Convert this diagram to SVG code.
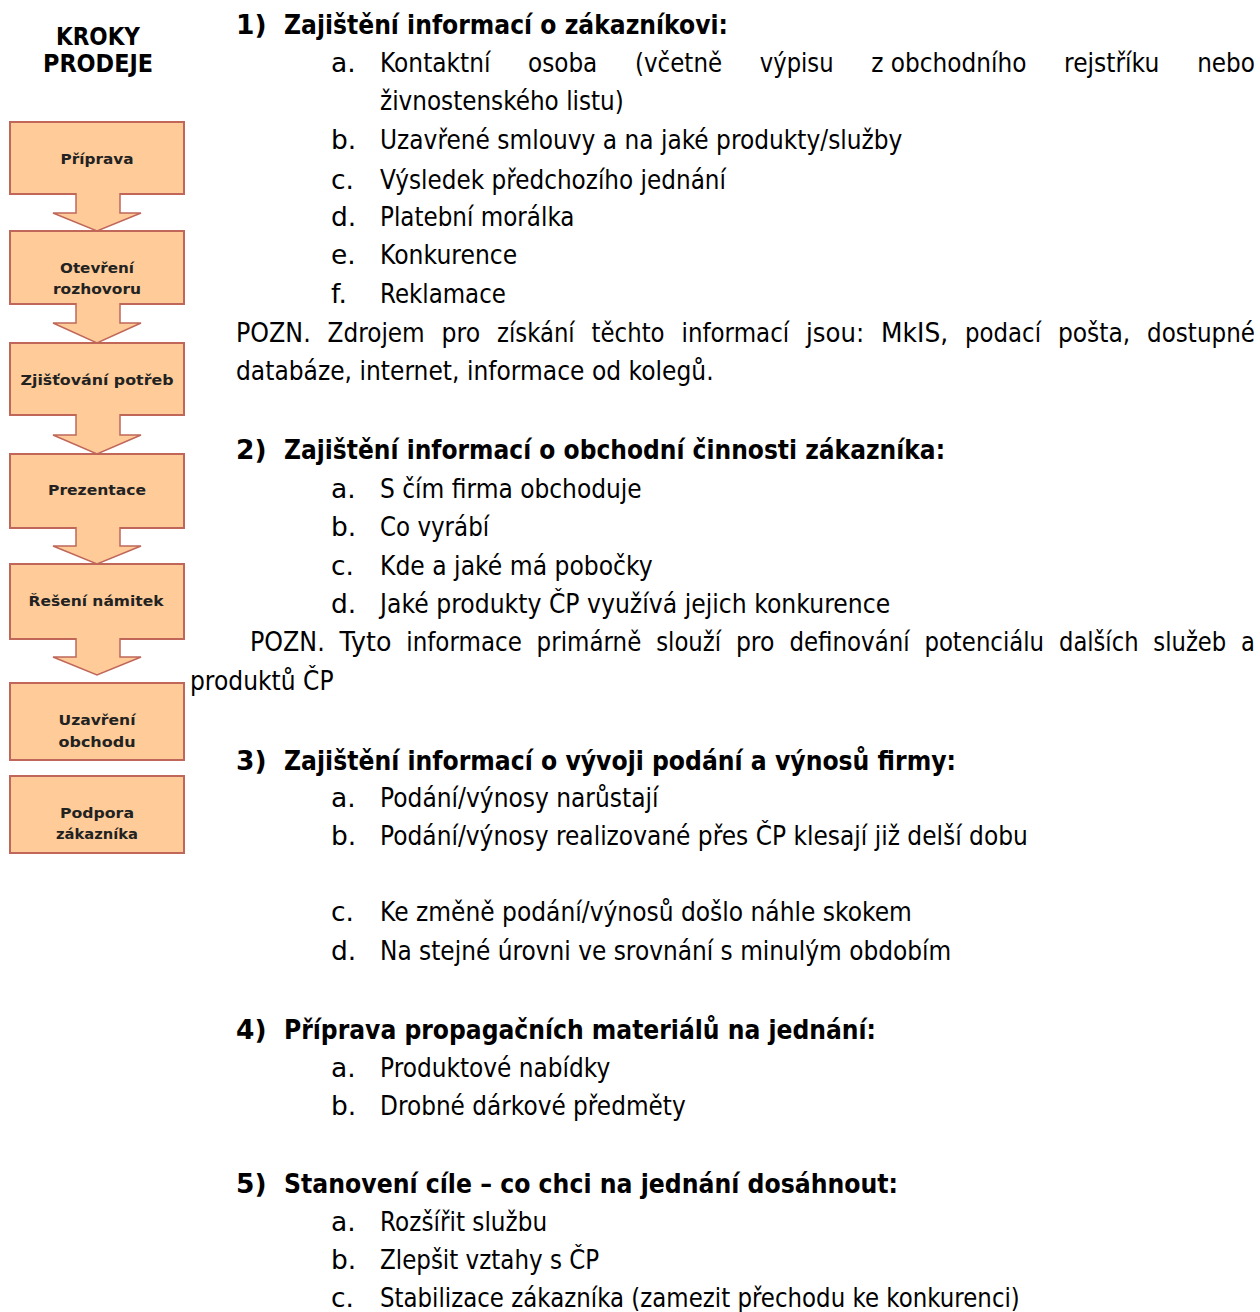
<svg xmlns="http://www.w3.org/2000/svg" width="1260" height="1312" viewBox="0 0 1260 1312">
  <style>
    .title { font-family: "DejaVu Sans", "Liberation Sans", sans-serif; font-size: 24px; font-weight: bold; fill: #000; text-anchor: middle; }
    .box { fill: #FFCC99; stroke: #C0675A; stroke-width: 2; }
    .arrow { fill: #FFCC99; stroke: #C0675A; stroke-width: 1.5; stroke-linejoin: miter; }
    .lbl { font-family: "DejaVu Sans", "Liberation Sans", sans-serif; font-size: 14px; font-weight: bold; fill: #222; text-anchor: middle; }
    .h { font-family: "DejaVu Sans", "Liberation Sans", sans-serif; font-size: 26.5px; font-weight: bold; fill: #000; }
    .t { font-family: "DejaVu Sans", "Liberation Sans", sans-serif; font-size: 26.5px; fill: #000; }
  </style>

  <!-- left column heading -->
  <g id="title">
    <text class="title" x="98" y="45" textLength="84" lengthAdjust="spacingAndGlyphs">KROKY</text>
    <text class="title" x="98" y="72" textLength="110" lengthAdjust="spacingAndGlyphs">PRODEJE</text>
  </g>

  <!-- sales steps -->
  <g id="step-priprava">
    <rect class="box" x="10" y="122" width="174" height="72"/>
    <text class="lbl" x="97" y="164" textLength="73" lengthAdjust="spacingAndGlyphs">Příprava</text>
  </g>
  <g id="step-otevreni">
    <rect class="box" x="10" y="231" width="174" height="73"/>
    <text class="lbl" x="97" y="273" textLength="74" lengthAdjust="spacingAndGlyphs">Otevření</text>
    <text class="lbl" x="97" y="294" textLength="88" lengthAdjust="spacingAndGlyphs">rozhovoru</text>
  </g>
  <g id="step-zjistovani">
    <rect class="box" x="10" y="343" width="174" height="72"/>
    <text class="lbl" x="97" y="385" textLength="153" lengthAdjust="spacingAndGlyphs">Zjišťování potřeb</text>
  </g>
  <g id="step-prezentace">
    <rect class="box" x="10" y="454" width="174" height="74"/>
    <text class="lbl" x="97" y="495" textLength="98" lengthAdjust="spacingAndGlyphs">Prezentace</text>
  </g>
  <g id="step-namitky">
    <rect class="box" x="10" y="564" width="174" height="75"/>
    <text class="lbl" x="96" y="606" textLength="135" lengthAdjust="spacingAndGlyphs">Řešení námitek</text>
  </g>
  <g id="step-uzavreni">
    <rect class="box" x="10" y="683" width="174" height="77"/>
    <text class="lbl" x="97" y="725" textLength="77" lengthAdjust="spacingAndGlyphs">Uzavření</text>
    <text class="lbl" x="97" y="747" textLength="77" lengthAdjust="spacingAndGlyphs">obchodu</text>
  </g>
  <g id="step-podpora">
    <rect class="box" x="10" y="776" width="174" height="77"/>
    <text class="lbl" x="97" y="818" textLength="74" lengthAdjust="spacingAndGlyphs">Podpora</text>
    <text class="lbl" x="97" y="839" textLength="82" lengthAdjust="spacingAndGlyphs">zákazníka</text>
  </g>

  <!-- block arrows between steps -->
  <g id="connectors">
    <path class="arrow" d="M76,193 V213 H53 L97,231 L141,213 H120 V193"/>
    <path class="arrow" d="M76,303 V323 H53 L97,343 L141,323 H120 V303"/>
    <path class="arrow" d="M76,414 V435 H53 L97,454 L141,435 H120 V414"/>
    <path class="arrow" d="M76,527 V546 H53 L97,564 L141,546 H120 V527"/>
    <path class="arrow" d="M76,638 V657 H53 L97,675 L141,657 H120 V638"/>
  </g>

  <!-- section 1 -->
  <g id="section-1">
    <text class="h" x="236" y="34">1)</text>
    <text class="h" x="284" y="34" textLength="444" lengthAdjust="spacingAndGlyphs">Zajištění informací o zákazníkovi:</text>
    <text class="t" x="331" y="72">a.</text>
    <!-- justified line: one text per word -->
    <text class="t" x="380" y="72" textLength="110.4" lengthAdjust="spacingAndGlyphs">Kontaktní</text>
    <text class="t" x="528.1" y="72" textLength="69.2" lengthAdjust="spacingAndGlyphs">osoba</text>
    <text class="t" x="635" y="72" textLength="87.1" lengthAdjust="spacingAndGlyphs">(včetně</text>
    <text class="t" x="759.8" y="72" textLength="73.7" lengthAdjust="spacingAndGlyphs">výpisu</text>
    <text class="t" x="871.2" y="72" textLength="155.2" lengthAdjust="spacingAndGlyphs">z obchodního</text>
    <text class="t" x="1064.1" y="72" textLength="95.2" lengthAdjust="spacingAndGlyphs">rejstříku</text>
    <text class="t" x="1197.2" y="72" textLength="57.8" lengthAdjust="spacingAndGlyphs">nebo</text>
    <text class="t" x="380" y="110" textLength="243.8" lengthAdjust="spacingAndGlyphs">živnostenského listu)</text>
    <text class="t" x="331" y="149">b.</text>
    <text class="t" x="380" y="149" textLength="522.4" lengthAdjust="spacingAndGlyphs">Uzavřené smlouvy a na jaké produkty/služby</text>
    <text class="t" x="331" y="189">c.</text>
    <text class="t" x="380" y="189" textLength="346" lengthAdjust="spacingAndGlyphs">Výsledek předchozího jednání</text>
    <text class="t" x="331" y="226">d.</text>
    <text class="t" x="380" y="226" textLength="194.5" lengthAdjust="spacingAndGlyphs">Platební morálka</text>
    <text class="t" x="331" y="264">e.</text>
    <text class="t" x="380" y="264" textLength="137.2" lengthAdjust="spacingAndGlyphs">Konkurence</text>
    <text class="t" x="331" y="303">f.</text>
    <text class="t" x="380" y="303" textLength="125.9" lengthAdjust="spacingAndGlyphs">Reklamace</text>
    <!-- justified note -->
    <text class="t" x="236" y="342" textLength="74.7" lengthAdjust="spacingAndGlyphs">POZN.</text>
    <text class="t" x="327.6" y="342" textLength="97.1" lengthAdjust="spacingAndGlyphs">Zdrojem</text>
    <text class="t" x="441.6" y="342" textLength="38.6" lengthAdjust="spacingAndGlyphs">pro</text>
    <text class="t" x="497.1" y="342" textLength="77.6" lengthAdjust="spacingAndGlyphs">získání</text>
    <text class="t" x="591.6" y="342" textLength="73" lengthAdjust="spacingAndGlyphs">těchto</text>
    <text class="t" x="681.5" y="342" textLength="107.7" lengthAdjust="spacingAndGlyphs">informací</text>
    <text class="t" x="806.1" y="342" textLength="58.1" lengthAdjust="spacingAndGlyphs">jsou:</text>
    <text class="t" x="881.1" y="342" textLength="67.1" lengthAdjust="spacingAndGlyphs">MkIS,</text>
    <text class="t" x="965.1" y="342" textLength="75.9" lengthAdjust="spacingAndGlyphs">podací</text>
    <text class="t" x="1057.9" y="342" textLength="72.4" lengthAdjust="spacingAndGlyphs">pošta,</text>
    <text class="t" x="1147.1" y="342" textLength="107.9" lengthAdjust="spacingAndGlyphs">dostupné</text>
    <text class="t" x="236" y="380" textLength="477.6" lengthAdjust="spacingAndGlyphs">databáze, internet, informace od kolegů.</text>
  </g>

  <!-- section 2 -->
  <g id="section-2">
    <text class="h" x="236" y="459">2)</text>
    <text class="h" x="284" y="459" textLength="661" lengthAdjust="spacingAndGlyphs">Zajištění informací o obchodní činnosti zákazníka:</text>
    <text class="t" x="331" y="498">a.</text>
    <text class="t" x="380" y="498" textLength="261.7" lengthAdjust="spacingAndGlyphs">S čím firma obchoduje</text>
    <text class="t" x="331" y="536">b.</text>
    <text class="t" x="380" y="536" textLength="109.1" lengthAdjust="spacingAndGlyphs">Co vyrábí</text>
    <text class="t" x="331" y="575">c.</text>
    <text class="t" x="380" y="575" textLength="272.7" lengthAdjust="spacingAndGlyphs">Kde a jaké má pobočky</text>
    <text class="t" x="331" y="613">d.</text>
    <text class="t" x="380" y="613" textLength="510.2" lengthAdjust="spacingAndGlyphs">Jaké produkty ČP využívá jejich konkurence</text>
    <!-- justified note -->
    <text class="t" x="250" y="651" textLength="74.7" lengthAdjust="spacingAndGlyphs">POZN.</text>
    <text class="t" x="339.5" y="651" textLength="51.9" lengthAdjust="spacingAndGlyphs">Tyto</text>
    <text class="t" x="406.3" y="651" textLength="115.5" lengthAdjust="spacingAndGlyphs">informace</text>
    <text class="t" x="536.6" y="651" textLength="104.7" lengthAdjust="spacingAndGlyphs">primárně</text>
    <text class="t" x="656.2" y="651" textLength="64.9" lengthAdjust="spacingAndGlyphs">slouží</text>
    <text class="t" x="735.9" y="651" textLength="38.6" lengthAdjust="spacingAndGlyphs">pro</text>
    <text class="t" x="789.4" y="651" textLength="120.2" lengthAdjust="spacingAndGlyphs">definování</text>
    <text class="t" x="924.4" y="651" textLength="119.7" lengthAdjust="spacingAndGlyphs">potenciálu</text>
    <text class="t" x="1059" y="651" textLength="79.5" lengthAdjust="spacingAndGlyphs">dalších</text>
    <text class="t" x="1153.3" y="651" textLength="73" lengthAdjust="spacingAndGlyphs">služeb</text>
    <text class="t" x="1241.1" y="651" textLength="13.9" lengthAdjust="spacingAndGlyphs">a</text>
    <text class="t" x="190" y="690" textLength="143.6" lengthAdjust="spacingAndGlyphs">produktů ČP</text>
  </g>

  <!-- section 3 -->
  <g id="section-3">
    <text class="h" x="236" y="770">3)</text>
    <text class="h" x="284" y="770" textLength="672" lengthAdjust="spacingAndGlyphs">Zajištění informací o vývoji podání a výnosů firmy:</text>
    <text class="t" x="331" y="807">a.</text>
    <text class="t" x="380" y="807" textLength="278.5" lengthAdjust="spacingAndGlyphs">Podání/výnosy narůstají</text>
    <text class="t" x="331" y="845">b.</text>
    <text class="t" x="380" y="845" textLength="647.8" lengthAdjust="spacingAndGlyphs">Podání/výnosy realizované přes ČP klesají již delší dobu</text>
    <text class="t" x="331" y="921">c.</text>
    <text class="t" x="380" y="921" textLength="531.9" lengthAdjust="spacingAndGlyphs">Ke změně podání/výnosů došlo náhle skokem</text>
    <text class="t" x="331" y="960">d.</text>
    <text class="t" x="380" y="960" textLength="571.2" lengthAdjust="spacingAndGlyphs">Na stejné úrovni ve srovnání s minulým obdobím</text>
  </g>

  <!-- section 4 -->
  <g id="section-4">
    <text class="h" x="236" y="1039">4)</text>
    <text class="h" x="284" y="1039" textLength="592" lengthAdjust="spacingAndGlyphs">Příprava propagačních materiálů na jednání:</text>
    <text class="t" x="331" y="1077">a.</text>
    <text class="t" x="380" y="1077" textLength="230.3" lengthAdjust="spacingAndGlyphs">Produktové nabídky</text>
    <text class="t" x="331" y="1115">b.</text>
    <text class="t" x="380" y="1115" textLength="305.7" lengthAdjust="spacingAndGlyphs">Drobné dárkové předměty</text>
  </g>

  <!-- section 5 -->
  <g id="section-5">
    <text class="h" x="236" y="1193">5)</text>
    <text class="h" x="284" y="1193" textLength="614" lengthAdjust="spacingAndGlyphs">Stanovení cíle – co chci na jednání dosáhnout:</text>
    <text class="t" x="331" y="1231">a.</text>
    <text class="t" x="380" y="1231" textLength="167.1" lengthAdjust="spacingAndGlyphs">Rozšířit službu</text>
    <text class="t" x="331" y="1269">b.</text>
    <text class="t" x="380" y="1269" textLength="219.1" lengthAdjust="spacingAndGlyphs">Zlepšit vztahy s ČP</text>
    <text class="t" x="331" y="1307">c.</text>
    <text class="t" x="380" y="1307" textLength="639.8" lengthAdjust="spacingAndGlyphs">Stabilizace zákazníka (zamezit přechodu ke konkurenci)</text>
  </g>
</svg>
